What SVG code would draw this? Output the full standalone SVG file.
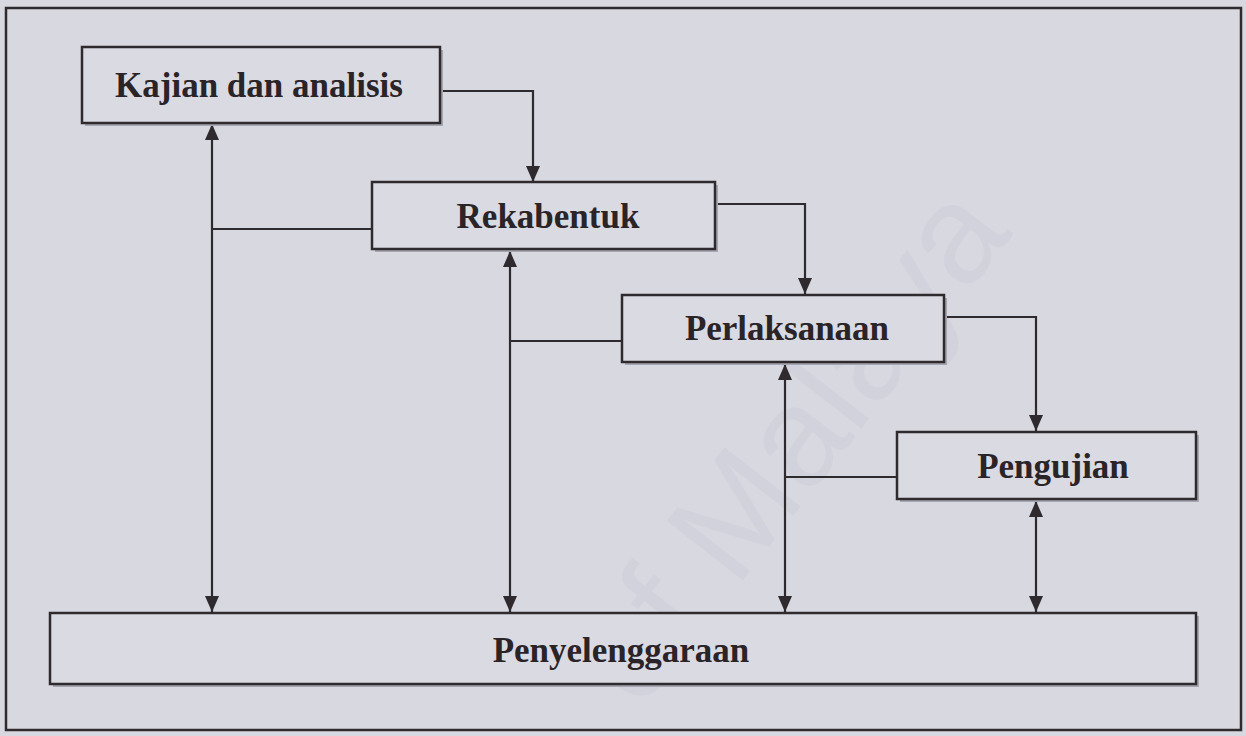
<svg xmlns="http://www.w3.org/2000/svg" width="1246" height="736" viewBox="0 0 1246 736">
<style>
  .bg{fill:#d8d8e0}
  .frame{fill:none;stroke:#2e2a2e;stroke-width:2.5}
  .box{fill:#dadae2;stroke:#2e2a2e;stroke-width:2.5}
  .sh{fill:#a6a6b0}
  .lbl{font-family:"Liberation Serif","Times New Roman",serif;font-weight:bold;font-size:35px;fill:#2a2428;text-anchor:middle}
  .con{fill:none;stroke:#2e2a2e;stroke-width:2.2}
  .wm{font-family:"Liberation Sans",Arial,sans-serif;font-size:140px;fill:#cfcfd8;fill-opacity:0.6}
</style>
<defs>
  <marker id="arr" viewBox="0 0 16 14" refX="16" refY="7" markerWidth="16" markerHeight="14" markerUnits="userSpaceOnUse" orient="auto-start-reverse">
    <path d="M0,0 L16,7 L0,14 z" fill="#2e2a2e"/>
  </marker>
</defs>
<rect class="bg" x="0" y="0" width="1246" height="736"/>
<text class="wm" x="640" y="712" transform="rotate(-52 640 712)">of Malaya</text>
<rect class="frame" x="6" y="8" width="1235" height="722"/>

<g id="connectors">
  <path class="con" d="M440,91 H533 V182" marker-end="url(#arr)"/>
  <path class="con" d="M715,204 H805 V294" marker-end="url(#arr)"/>
  <path class="con" d="M944,317 H1036 V431" marker-end="url(#arr)"/>
  <line class="con" x1="212" y1="124" x2="212" y2="612" marker-start="url(#arr)" marker-end="url(#arr)"/>
  <line class="con" x1="510" y1="251" x2="510" y2="612" marker-start="url(#arr)" marker-end="url(#arr)"/>
  <line class="con" x1="785" y1="364" x2="785" y2="612" marker-start="url(#arr)" marker-end="url(#arr)"/>
  <line class="con" x1="1036" y1="501" x2="1036" y2="612" marker-start="url(#arr)" marker-end="url(#arr)"/>
  <path class="con" d="M372,229 H212"/>
  <path class="con" d="M622,341 H510"/>
  <path class="con" d="M897,477 H785"/>
</g>

<g id="kajian">
  <rect class="sh" x="85" y="50" width="358" height="76"/>
  <rect class="box" x="82" y="47" width="358" height="76"/>
  <text class="lbl" x="259" y="97">Kajian dan analisis</text>
</g>
<g id="rekabentuk">
  <rect class="sh" x="375" y="185" width="343" height="67"/>
  <rect class="box" x="372" y="182" width="343" height="67"/>
  <text class="lbl" x="548" y="228">Rekabentuk</text>
</g>
<g id="perlaksanaan">
  <rect class="sh" x="625" y="298" width="322" height="67"/>
  <rect class="box" x="622" y="295" width="322" height="67"/>
  <text class="lbl" x="787" y="340">Perlaksanaan</text>
</g>
<g id="pengujian">
  <rect class="sh" x="900" y="435" width="299" height="67"/>
  <rect class="box" x="897" y="432" width="299" height="67"/>
  <text class="lbl" x="1053" y="478">Pengujian</text>
</g>
<g id="penyelenggaraan">
  <rect class="sh" x="53" y="616" width="1146" height="71"/>
  <rect class="box" x="50" y="613" width="1146" height="71"/>
  <text class="lbl" x="621" y="662">Penyelenggaraan</text>
</g>
</svg>
